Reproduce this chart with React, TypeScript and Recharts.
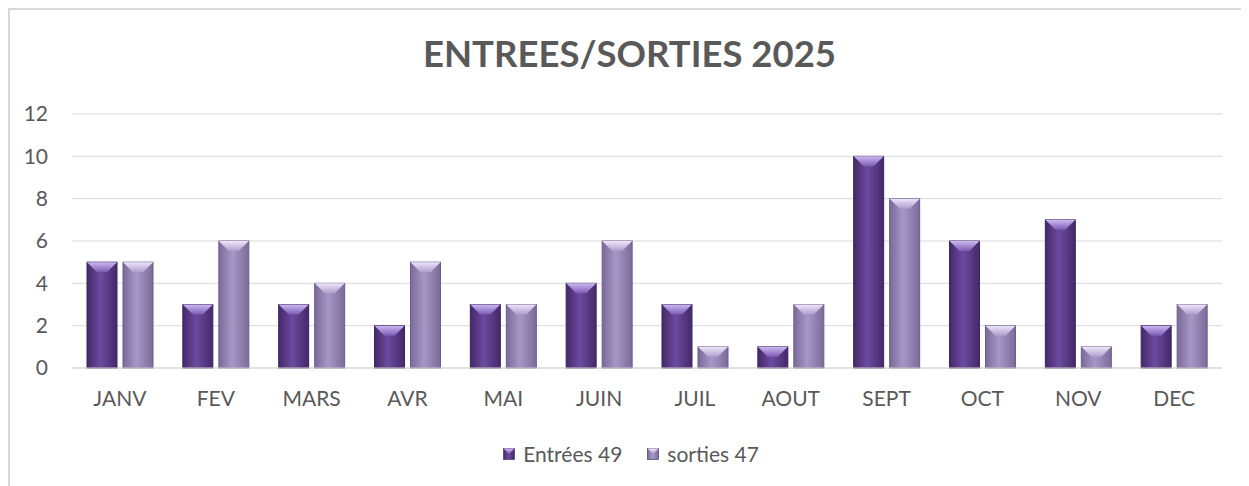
import { BarChart, Bar, XAxis, YAxis, CartesianGrid, Legend } from 'recharts';

const months = ['JANV', 'FEV', 'MARS', 'AVR', 'MAI', 'JUIN', 'JUIL', 'AOUT', 'SEPT', 'OCT', 'NOV', 'DEC'];
const entrees = [5, 3, 3, 2, 3, 4, 3, 1, 10, 6, 7, 2];
const sorties = [5, 6, 4, 5, 3, 6, 1, 3, 8, 2, 1, 3];
const yTicks = [0, 2, 4, 6, 8, 10, 12];

const chartData = months.map((m, i) => ({ month: m, entrees: entrees[i], sorties: sorties[i] }));

const textColor = '#595959';
const font = 'Lato, "Open Sans", sans-serif';

// bevelled bar, like the Office "3D" column style
function BevelBar(props: any) {
  const { x, y, width, height, dataKey } = props;
  if (!height || height <= 0) return null;
  const id = dataKey === 'entrees' ? 'gEnt' : 'gSor';
  const bev = Math.min(10, height / 2, width / 3);
  return (
    <g>
      <rect x={x} y={y} width={width} height={height} fill={`url(#${id})`} stroke={dataKey === 'entrees' ? '#3a2660' : '#6c5d8a'} strokeWidth={1} />
      <polygon
        points={`${x},${y} ${x + width},${y} ${x + width - bev},${y + bev} ${x + bev},${y + bev}`}
        fill={`url(#${id}Top)`}
      />
    </g>
  );
}

function LegendContent() {
  const items = [
    { label: 'Entrées 49', id: 'gEnt' },
    { label: 'sorties 47', id: 'gSor' },
  ];
  return (
    <div style={{ display: 'flex', justifyContent: 'center', gap: 25, fontFamily: font, fontSize: 21, color: textColor, marginLeft: 18 }}>
      {items.map((it) => (
        <div key={it.label} style={{ display: 'flex', alignItems: 'center', gap: 8 }}>
          <svg width={12} height={12}>
            <rect x={0.5} y={0.5} width={11} height={11} fill={`url(#${it.id})`} stroke="#3a2660" strokeWidth={0.6} />
            <polygon points="0.5,0.5 11.5,0.5 6,6" fill={`url(#${it.id}Top)`} />
          </svg>
          <span>{it.label}</span>
        </div>
      ))}
    </div>
  );
}

export default function App() {
  return (
    <div
      style={{
        position: 'relative',
        width: 1241,
        height: 478,
        boxSizing: 'border-box',
        borderTop: '2px solid #d9d9d9',
        borderLeft: '2px solid #d9d9d9',
        background: '#fff',
        overflow: 'hidden',
      }}
    >
      <svg width={0} height={0} style={{ position: 'absolute' }}>
        <defs>
          <linearGradient id="gEnt" x1="0" y1="0" x2="1" y2="0">
            <stop offset="0%" stopColor="#43296b" />
            <stop offset="45%" stopColor="#6b4b9e" />
            <stop offset="100%" stopColor="#44296b" />
          </linearGradient>
          <linearGradient id="gEntTop" x1="0" y1="0" x2="0" y2="1">
            <stop offset="0%" stopColor="#cdb8f0" />
            <stop offset="100%" stopColor="#7c5bb4" />
          </linearGradient>
          <linearGradient id="gSor" x1="0" y1="0" x2="1" y2="0">
            <stop offset="0%" stopColor="#7a6a9a" />
            <stop offset="45%" stopColor="#a797c7" />
            <stop offset="100%" stopColor="#7b6b9b" />
          </linearGradient>
          <linearGradient id="gSorTop" x1="0" y1="0" x2="0" y2="1">
            <stop offset="0%" stopColor="#eee6fa" />
            <stop offset="100%" stopColor="#ad9dcc" />
          </linearGradient>
        </defs>
      </svg>
      <div
        style={{
          position: 'absolute',
          top: 21,
          left: 0,
          width: 1239,
          textAlign: 'center',
          fontFamily: font,
          fontWeight: 700,
          fontSize: 36.5,
          color: textColor,
        }}
      >
        ENTREES/SORTIES 2025
      </div>
      <BarChart
        width={1239}
        height={476}
        data={chartData}
        margin={{ top: 104, right: 27, bottom: 21, left: 12 }}
        barGap={6}
        barSize={30}
      >
        <CartesianGrid vertical={false} stroke="#d9d9d9" />
        <XAxis
          dataKey="month"
          height={73}
          axisLine={{ stroke: '#d9d9d9' }}
          tickLine={false}
          tickSize={0}
          tickMargin={23}
          tick={{ fill: textColor, fontSize: 21, fontFamily: font }}
        />
        <YAxis
          domain={[0, 12]}
          ticks={yTicks}
          width={50}
          axisLine={false}
          tickLine={false}
          tickSize={0}
          tickMargin={24}
          tick={{ fill: textColor, fontSize: 21, fontFamily: font }}
        />
        <Legend verticalAlign="bottom" height={24} content={<LegendContent />} />
        <Bar dataKey="entrees" name="Entrées 49" shape={<BevelBar />} isAnimationActive={false} />
        <Bar dataKey="sorties" name="sorties 47" shape={<BevelBar />} isAnimationActive={false} />
      </BarChart>
    </div>
  );
}
